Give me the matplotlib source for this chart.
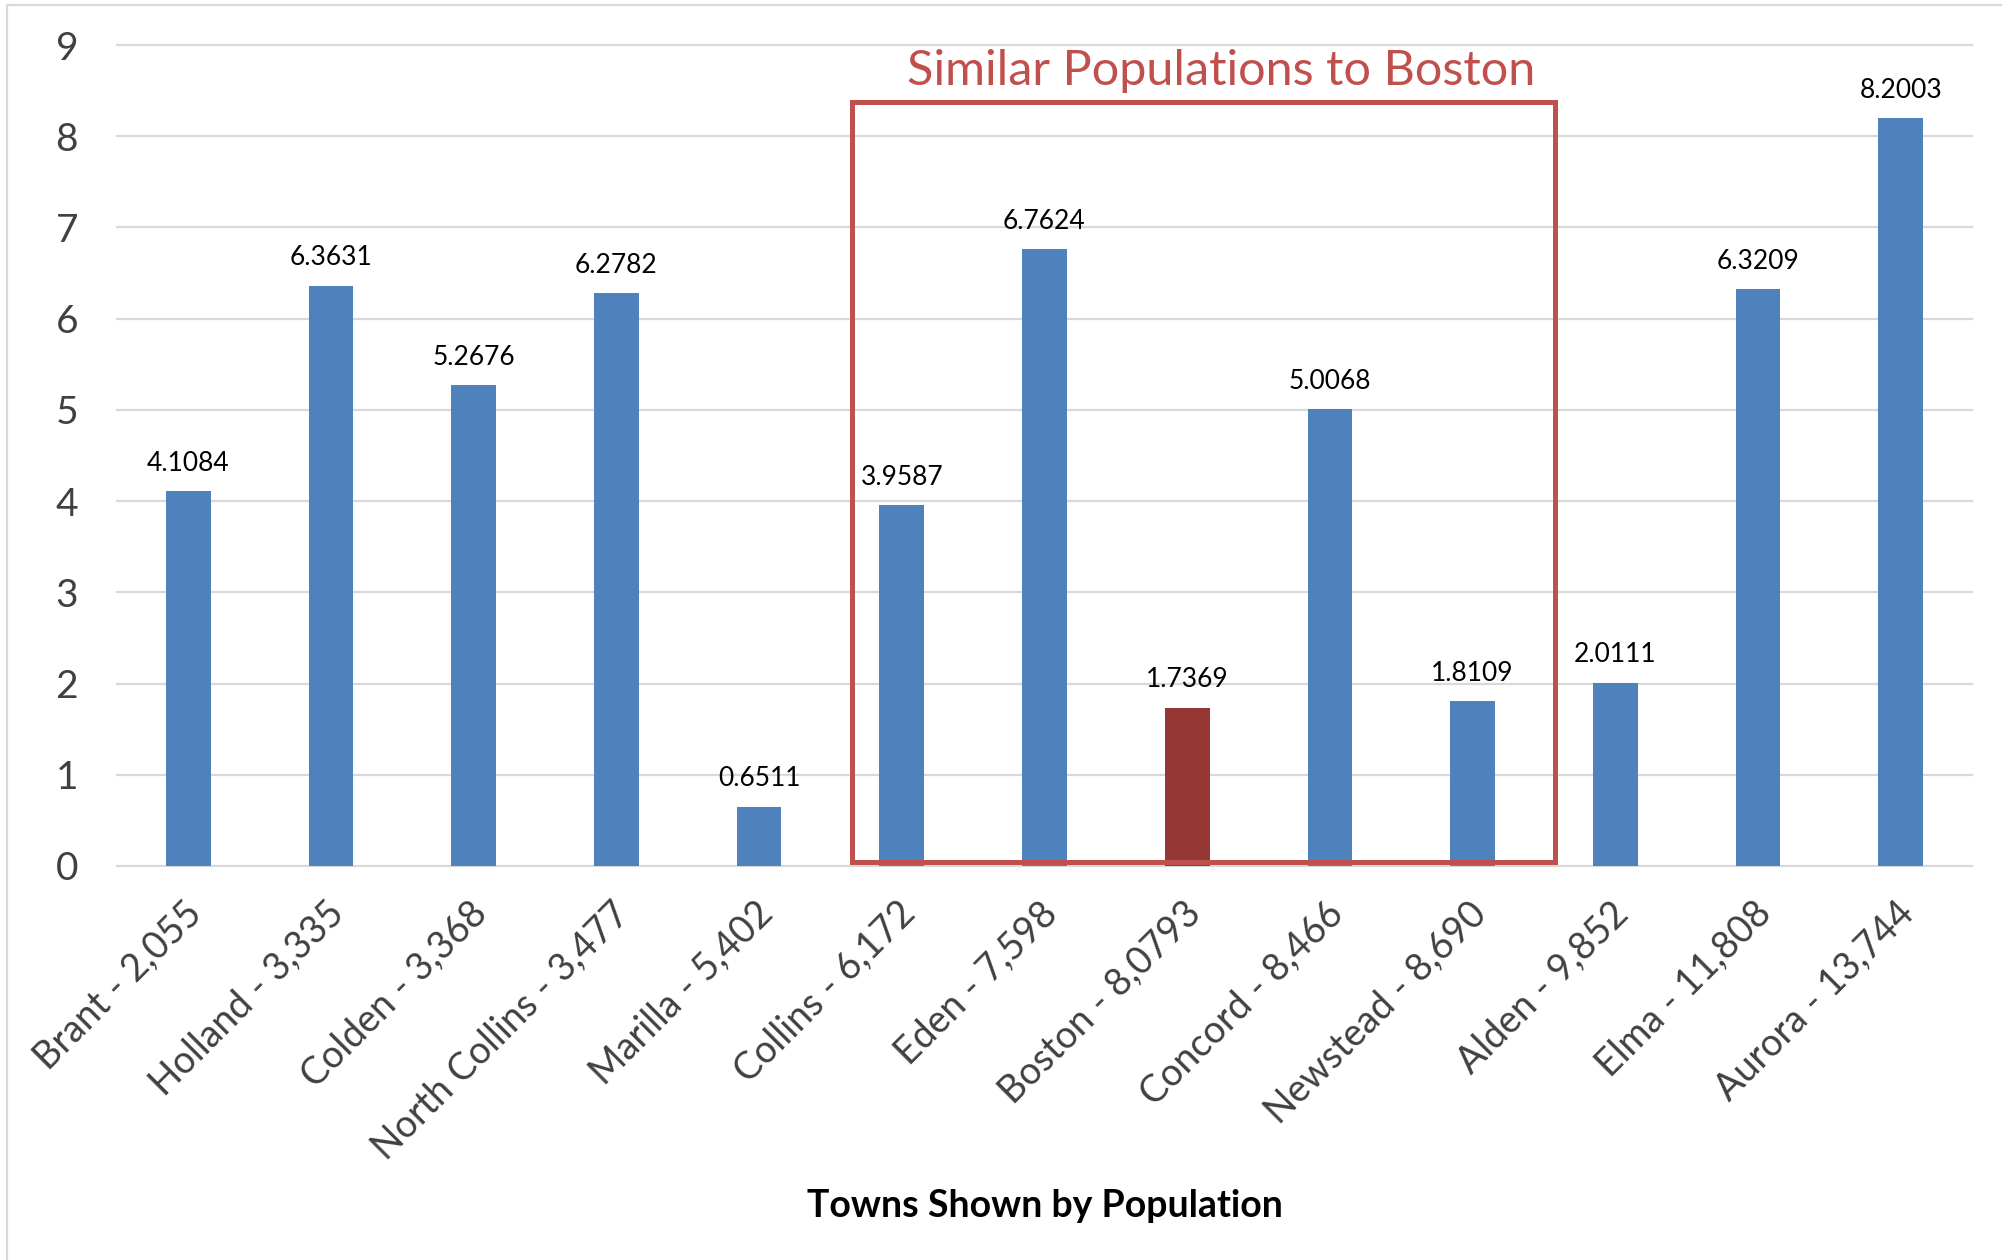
import matplotlib
matplotlib.use("Agg")
import matplotlib.pyplot as plt
from matplotlib.patches import Rectangle
from matplotlib.lines import Line2D
from matplotlib.transforms import ScaledTranslation

# ---- data -------------------------------------------------------------
towns = ["Brant", "Holland", "Colden", "North Collins", "Marilla", "Collins",
         "Eden", "Boston", "Concord", "Newstead", "Alden", "Elma", "Aurora"]
populations = ["2,055", "3,335", "3,368", "3,477", "5,402", "6,172", "7,598",
               "8,0793", "8,466", "8,690", "9,852", "11,808", "13,744"]
values = [4.1084, 6.3631, 5.2676, 6.2782, 0.6511, 3.9587, 6.7624,
          1.7369, 5.0068, 1.8109, 2.0111, 6.3209, 8.2003]
y_ticks = [0, 1, 2, 3, 4, 5, 6, 7, 8, 9]
highlight_town = "Boston"
group_first, group_last = "Collins", "Newstead"
group_title = "Similar Populations to Boston"
x_title = "Towns Shown by Population"

# ---- style ------------------------------------------------------------
BLUE = "#4F81BD"
DARK_RED = "#953735"
BOX_RED = "#C0504D"
GRID = "#D9D9D9"
TICK_COLOR = "#404040"
plt.rcParams["font.family"] = ["Lato", "DejaVu Sans"]

W, H, DPI = 2002, 1260, 100
fig = plt.figure(figsize=(W / DPI, H / DPI), dpi=DPI)
fig.patch.set_facecolor("white")

# plot area in pixel units of the figure
left_px, right_px, top_px, bottom_px = 117, 1972, 45, 866
ax = fig.add_axes([left_px / W, 1 - bottom_px / H,
                   (right_px - left_px) / W, (bottom_px - top_px) / H])

x = list(range(len(towns)))
colors = [DARK_RED if t == highlight_town else BLUE for t in towns]
ax.bar(x, values, width=0.313, color=colors, zorder=2)

ax.set_xlim(-0.5, len(towns) - 0.5)
ax.set_ylim(y_ticks[0], y_ticks[-1])
ax.set_yticks(y_ticks)
ax.yaxis.grid(True, color=GRID, linewidth=1.6)
ax.set_axisbelow(True)
for gl in ax.get_ygridlines():
    gl.set_clip_on(False)
for s in ax.spines.values():
    s.set_visible(False)

ax.tick_params(axis="y", length=0, pad=28, labelsize=28, labelcolor=TICK_COLOR)

# rotated category labels
labels = [f"{t} - {p}" for t, p in zip(towns, populations)]
ax.set_xticks(x, labels)
ax.tick_params(axis="x", length=0, pad=21, labelsize=27, labelcolor=TICK_COLOR)
shift = ScaledTranslation(-5 / DPI, 0, fig.dpi_scale_trans)
for lab in ax.get_xticklabels():
    lab.set_rotation(45)
    lab.set_ha("right")
    lab.set_va("top")
    lab.set_rotation_mode("anchor")
    lab.set_transform(lab.get_transform() + shift)

# value labels above bars
for xi, v in zip(x, values):
    ax.annotate(f"{v:.4f}", (xi, v), xytext=(0, 14.5), textcoords="offset points",
                ha="center", va="baseline", fontsize=19, color="black")

# group box around the towns with populations close to Boston
i0, i1 = towns.index(group_first), towns.index(group_last)
box_left, box_right = i0 - 0.35, i1 + 0.58
box_bottom, box_top = 0.04, 8.37
ax.add_patch(Rectangle((box_left, box_bottom), box_right - box_left,
                       box_top - box_bottom, fill=False, edgecolor=BOX_RED,
                       linewidth=3.6, joinstyle="miter", zorder=3, clip_on=False))
ax.text((box_left + box_right) / 2 + 0.125, 8.56, group_title, ha="center",
        va="baseline", fontsize=35, color=BOX_RED, zorder=4)

# axis title
fig.text((left_px + right_px) / 2 / W, 1 - 1217 / H, x_title, ha="center",
         va="baseline", fontsize=27, fontweight="bold", color="black")

# chart frame
fx = 7 / W
fy = 1 - 5 / H
fig.add_artist(Line2D([fx, fx], [0, fy], transform=fig.transFigure, color=GRID, lw=1.6))
fig.add_artist(Line2D([fx, 1], [fy, fy], transform=fig.transFigure, color=GRID, lw=1.6))

fig.savefig("out.png", dpi=DPI, facecolor="white")
